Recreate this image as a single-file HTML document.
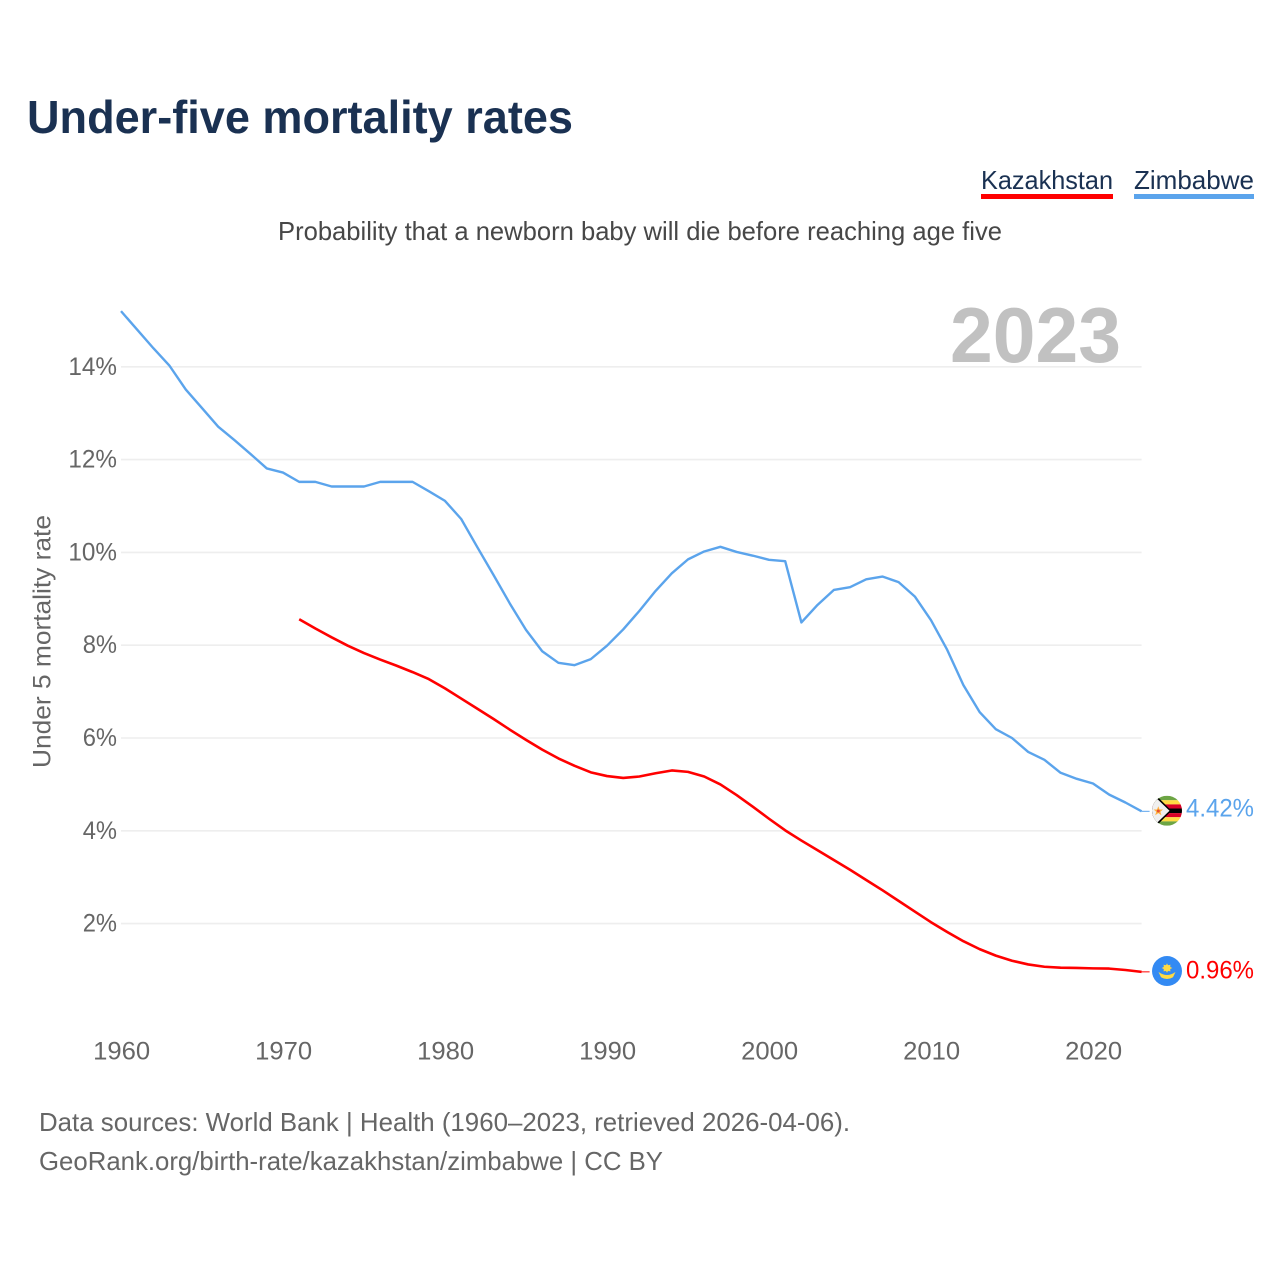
<!DOCTYPE html>
<html lang="en">
<head>
<meta charset="utf-8">
<title>Under-five mortality rates</title>
<style>
html,body{margin:0;padding:0;background:#fff;width:1280px;height:1280px;overflow:hidden}
svg{display:block;font-family:"Liberation Sans",sans-serif}
</style>
</head>
<body>
<svg id="chart" xmlns="http://www.w3.org/2000/svg" width="1280" height="1280" viewBox="0 0 1280 1280">
  <rect width="1280" height="1280" fill="#ffffff"/>
  <text x="27" y="133" font-size="46" font-weight="700" fill="#1a3152" textLength="546" lengthAdjust="spacingAndGlyphs">Under-five mortality rates</text>

  <g>
    <text x="981" y="189" font-size="26" fill="#1a3152" textLength="132" lengthAdjust="spacingAndGlyphs">Kazakhstan</text>
    <rect x="981" y="194" width="132" height="5" fill="#ff0000"/>
  </g>
  <g>
    <text x="1134" y="189" font-size="26" fill="#1a3152" textLength="120" lengthAdjust="spacingAndGlyphs">Zimbabwe</text>
    <rect x="1134" y="194" width="120" height="5" fill="#5ba4ec"/>
  </g>

  <text x="278" y="240" font-size="26" fill="#474747" textLength="724" lengthAdjust="spacingAndGlyphs">Probability that a newborn baby will die before reaching age five</text>

  <g id="grid"></g>
  <text x="950" y="362" font-size="78" font-weight="700" fill="#c1c1c1" textLength="171" lengthAdjust="spacingAndGlyphs">2023</text>
  <g id="yTicks"></g>
  <g id="xTicks"></g>
  <text transform="translate(50.5,768) rotate(-90)" font-size="25" fill="#666666" textLength="253" lengthAdjust="spacingAndGlyphs">Under 5 mortality rate</text>

  <g id="series"></g>

  <defs>
    <clipPath id="flagClip"><circle cx="0" cy="0" r="15"/></clipPath>
  </defs>
  <g id="flagZimbabwe">
    <g clip-path="url(#flagClip)">
      <rect x="-15" y="-15" width="30" height="30" fill="#f0f0f0"/>
      <rect x="-15" y="-15" width="30" height="4.5" fill="#6da544"/>
      <rect x="-15" y="-10.5" width="30" height="4.2" fill="#ffda44"/>
      <rect x="-15" y="-6.3" width="30" height="4.1" fill="#d80027"/>
      <rect x="-15" y="-2.2" width="30" height="4.6" fill="#000000"/>
      <rect x="-15" y="2.4" width="30" height="4.1" fill="#d80027"/>
      <rect x="-15" y="6.5" width="30" height="4.2" fill="#ffda44"/>
      <rect x="-15" y="10.7" width="30" height="4.3" fill="#6da544"/>
      <polygon points="-15,-15 -10.5,-15 4.5,0 -10.5,15 -15,15" fill="#000000"/>
      <polygon points="-15,-15 -12,-14 2.5,0 -12,14 -15,15" fill="#f0f0f0"/>
      <polygon points="-8.7,-4.5 -7.4,-1.2 -4,-1.2 -6.6,1 -5.6,4.5 -8.7,2.4 -11.8,4.5 -10.8,1 -13.4,-1.2 -10,-1.2" fill="#ffb340"/>
      <circle cx="-8.7" cy="0.3" r="1.5" fill="#e8502f"/>
    </g>
  </g>
  <g id="flagKazakhstan">
    <circle cx="0" cy="0" r="15" fill="#338af3"/>
    <circle cx="0" cy="-3" r="3.3" fill="#ffda44"/>
    <path d="M0,-7.8 L1,-5.6 L3.4,-6.4 L3.2,-4 L5.4,-3 L3.2,-2 L3.4,0.4 L1,-0.4 L0,1.8 L-1,-0.4 L-3.4,0.4 L-3.2,-2 L-5.4,-3 L-3.2,-4 L-3.4,-6.4 L-1,-5.6 Z" fill="#ffda44"/>
    <path d="M-8.5,1 Q-4,4 0,4 Q4,4 8.5,1 L6,6.2 Q3,8 0,8 Q-3,8 -6,6.2 Z" fill="#ffda44"/>
  </g>
  <g id="endLabels"></g>

  <text x="39" y="1131" font-size="26" fill="#666666" textLength="811" lengthAdjust="spacingAndGlyphs">Data sources: World Bank | Health (1960–2023, retrieved 2026-04-06).</text>
  <text x="39" y="1170" font-size="26" fill="#666666" textLength="624" lengthAdjust="spacingAndGlyphs">GeoRank.org/birth-rate/kazakhstan/zimbabwe | CC BY</text>
</svg>
<script>
const zimbabweStartYear = 1960;
const zimbabweValues = [15.2,14.8,14.4,14.02,13.51,13.11,12.71,12.42,12.12,11.81,11.72,11.52,11.52,11.42,11.42,11.42,11.52,11.52,11.52,11.32,11.11,10.72,10.11,9.51,8.9,8.33,7.87,7.62,7.57,7.7,7.99,8.34,8.74,9.17,9.55,9.85,10.02,10.12,10.01,9.93,9.84,9.81,8.49,8.87,9.19,9.25,9.42,9.48,9.36,9.05,8.54,7.9,7.14,6.56,6.19,6.0,5.7,5.53,5.25,5.12,5.02,4.78,4.61,4.42];
const kazakhstanStartYear = 1971;
const kazakhstanValues = [8.56,8.36,8.17,7.99,7.83,7.69,7.56,7.42,7.27,7.07,6.85,6.63,6.41,6.18,5.96,5.75,5.56,5.4,5.26,5.18,5.14,5.17,5.24,5.3,5.27,5.17,5.0,4.77,4.52,4.26,4.01,3.79,3.58,3.37,3.16,2.94,2.72,2.49,2.26,2.03,1.82,1.62,1.45,1.31,1.2,1.12,1.07,1.05,1.045,1.035,1.03,1.0,0.96];
const yTickValues = [2,4,6,8,10,12,14];
const xTickYears = [1960,1970,1980,1990,2000,2010,2020];

const NS = 'http://www.w3.org/2000/svg';
function xScale(year){ return 121 + (year - 1960) * 16.2; }
function yScale(v){ return 1016.4 - v * 46.4; }
function make(tag, parent){
  const el = document.createElementNS(NS, tag);
  parent.appendChild(el);
  return el;
}
function pathFrom(values, startYear){
  return values.map((v, i) => (i ? 'L' : 'M') + xScale(startYear + i).toFixed(2) + ',' + yScale(v).toFixed(2)).join(' ');
}

const grid = document.getElementById('grid');
const yTicks = document.getElementById('yTicks');
yTickValues.forEach(v => {
  const line = make('line', grid);
  
  
  line.setAttribute('x1', xScale(1960));
  line.setAttribute('x2', xScale(2023));
  line.setAttribute('y1', yScale(v));
  line.setAttribute('y2', yScale(v));
  line.setAttribute('stroke', '#eeeeee');
  line.setAttribute('stroke-width', '1.6');
  const label = make('text', yTicks);
  
  
  label.setAttribute('x', 117);
  label.setAttribute('y', yScale(v) + 8);
  label.setAttribute('text-anchor', 'end');
  label.setAttribute('font-size', '25');
  label.setAttribute('fill', '#666666');
  label.setAttribute('textLength', String(v).length * 14.3 + 20);
  label.setAttribute('lengthAdjust', 'spacingAndGlyphs');
  label.textContent = v + '%';
});

const xTicks = document.getElementById('xTicks');
xTickYears.forEach(y => {
  const label = make('text', xTicks);
  
  
  label.setAttribute('x', xScale(y) + 0.7);
  label.setAttribute('y', 1059.5);
  label.setAttribute('text-anchor', 'middle');
  label.setAttribute('font-size', '25');
  label.setAttribute('fill', '#666666');
  label.setAttribute('textLength', '57');
  label.setAttribute('lengthAdjust', 'spacingAndGlyphs');
  label.textContent = y;
});

const series = document.getElementById('series');
const endLabels = document.getElementById('endLabels');

const zimbabweLine = make('path', series);


zimbabweLine.setAttribute('d', pathFrom(zimbabweValues, zimbabweStartYear));
zimbabweLine.setAttribute('fill', 'none');
zimbabweLine.setAttribute('stroke', '#5ba4ec');
zimbabweLine.setAttribute('stroke-width', '2.4');
zimbabweLine.setAttribute('stroke-linejoin', 'round');

const kazakhstanLine = make('path', series);


kazakhstanLine.setAttribute('d', pathFrom(kazakhstanValues, kazakhstanStartYear));
kazakhstanLine.setAttribute('fill', 'none');
kazakhstanLine.setAttribute('stroke', '#ff0000');
kazakhstanLine.setAttribute('stroke-width', '2.6');
kazakhstanLine.setAttribute('stroke-linejoin', 'round');

const zimbabweLast = zimbabweValues[zimbabweValues.length - 1];
const kazakhstanLast = kazakhstanValues[kazakhstanValues.length - 1];
const endX = xScale(2023);

const zimbabweConnector = make('line', series);


zimbabweConnector.setAttribute('x1', endX);
zimbabweConnector.setAttribute('x2', endX + 8);
zimbabweConnector.setAttribute('y1', yScale(zimbabweLast));
zimbabweConnector.setAttribute('y2', yScale(zimbabweLast));
zimbabweConnector.setAttribute('stroke', '#5ba4ec');
zimbabweConnector.setAttribute('stroke-width', '1');

const kazakhstanConnector = make('line', series);


kazakhstanConnector.setAttribute('x1', endX);
kazakhstanConnector.setAttribute('x2', endX + 8);
kazakhstanConnector.setAttribute('y1', yScale(kazakhstanLast));
kazakhstanConnector.setAttribute('y2', yScale(kazakhstanLast));
kazakhstanConnector.setAttribute('stroke', '#ff0000');
kazakhstanConnector.setAttribute('stroke-width', '1');

document.getElementById('flagZimbabwe').setAttribute('transform', 'translate(1167,' + (yScale(zimbabweLast) - 0.6) + ')');
document.getElementById('flagKazakhstan').setAttribute('transform', 'translate(1167,' + (yScale(kazakhstanLast) - 0.8) + ')');

const zimbabweValueLabel = make('text', endLabels);


zimbabweValueLabel.setAttribute('x', 1186);
zimbabweValueLabel.setAttribute('y', yScale(zimbabweLast) + 5);
zimbabweValueLabel.setAttribute('font-size', '25');
zimbabweValueLabel.setAttribute('fill', '#5ba4ec');
zimbabweValueLabel.setAttribute('textLength', '68');
zimbabweValueLabel.setAttribute('lengthAdjust', 'spacingAndGlyphs');
zimbabweValueLabel.textContent = zimbabweLast.toFixed(2) + '%';

const kazakhstanValueLabel = make('text', endLabels);


kazakhstanValueLabel.setAttribute('x', 1186);
kazakhstanValueLabel.setAttribute('y', yScale(kazakhstanLast) + 6.5);
kazakhstanValueLabel.setAttribute('font-size', '25');
kazakhstanValueLabel.setAttribute('fill', '#ff0000');
kazakhstanValueLabel.setAttribute('textLength', '68');
kazakhstanValueLabel.setAttribute('lengthAdjust', 'spacingAndGlyphs');
kazakhstanValueLabel.textContent = kazakhstanLast.toFixed(2) + '%';
</script>
</body>
</html>
